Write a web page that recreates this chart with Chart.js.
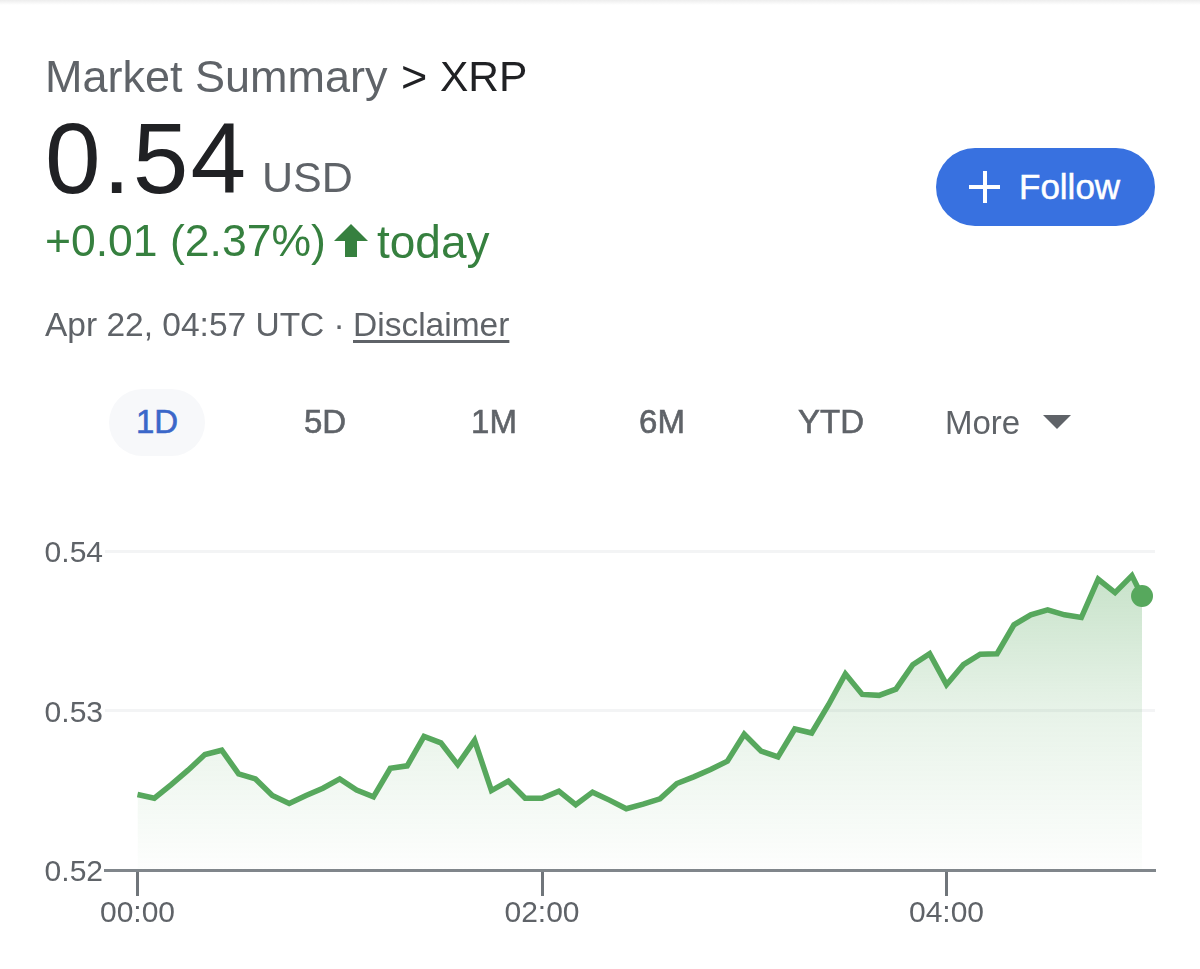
<!DOCTYPE html>
<html>
<head>
<meta charset="utf-8">
<script src="https://cdn.jsdelivr.net/npm/chart.js@4"></script>
<style>
  html, body { margin: 0; padding: 0; background: #fff; }
  body { width: 1200px; height: 969px; position: relative; overflow: hidden; font-family: "Liberation Sans", Arial, sans-serif; }
  .t { position: absolute; line-height: 1; white-space: nowrap; }
  .tab { position: absolute; top: 405px; font-size: 33px; line-height: 1; color: #5f6368; transform: translateX(-50%); -webkit-text-stroke: 0.6px currentColor; }
  #topbar { position: absolute; left: 0; top: 0; width: 1200px; height: 5px; background: linear-gradient(#ededed, #fff); }
  #pill { position: absolute; left: 109px; top: 389px; width: 96px; height: 67px; border-radius: 34px; background: #f7f8fa; }
  #follow { position: absolute; left: 936px; top: 148px; width: 219px; height: 78px; border-radius: 39px; background: #3871e0; }
  #plusH { position: absolute; left: 969px; top: 185px; width: 31px; height: 4px; background: #fff; }
  #plusV { position: absolute; left: 983px; top: 171px; width: 4px; height: 32px; background: #fff; }
  #caret { position: absolute; left: 1043px; top: 415px; width: 0; height: 0; border-left: 14px solid transparent; border-right: 14px solid transparent; border-top: 14px solid #5f6368; }
  #chart { position: absolute; left: 0; top: 0; }
</style>
</head>
<body>
<div id="topbar"></div>
<canvas id="chart" width="1200" height="969" style="width:1200px;height:969px"></canvas>

<div class="t" style="left:45px;top:54px;font-size:45px;color:#5f6368">Market Summary</div>
<div class="t" style="left:401px;top:54px;font-size:45px;color:#202124">&gt;</div>
<div class="t" style="left:440px;top:56px;font-size:42.5px;color:#202124">XRP</div>
<div class="t" style="left:45px;top:108px;font-size:100px;letter-spacing:2.2px;color:#202124">0.54</div>
<div class="t" style="left:262px;top:156px;font-size:43px;color:#5f6368">USD</div>
<div class="t" style="left:45px;top:219px;font-size:44.5px;color:#36803f">+0.01 (2.37%)</div>
<svg style="position:absolute;left:333px;top:224px" width="36" height="34" viewBox="0 0 36 34"><path d="M18 0 L35 17 L24 17 L24 33 L12 33 L12 17 L1 17 Z" fill="#36803f"/></svg>
<div class="t" style="left:377px;top:219px;font-size:46px;color:#36803f">today</div>
<div class="t" style="left:45px;top:308px;font-size:33.5px;color:#5f6368">Apr 22, 04:57 UTC ·</div>
<div class="t" style="left:353px;top:308px;font-size:33.5px;color:#5f6368;text-decoration:underline;text-underline-offset:4px">Disclaimer</div>

<div id="follow"></div>
<div id="plusH"></div>
<div id="plusV"></div>
<div class="t" style="left:1019px;top:169px;font-size:35px;color:#fff;-webkit-text-stroke:0.5px #fff">Follow</div>

<div id="pill"></div>
<div class="tab" style="left:157px;color:#3b67c9">1D</div>
<div class="tab" style="left:325px">5D</div>
<div class="tab" style="left:494px">1M</div>
<div class="tab" style="left:662px">6M</div>
<div class="tab" style="left:831px">YTD</div>
<div class="t" style="left:945px;top:406px;font-size:33px;color:#5f6368">More</div>
<div id="caret"></div>

<script>
// minutes after midnight UTC, one reading every 5 min plus the latest one
const minutes = [0, 5, 10, 15, 20, 25, 30, 35, 40, 45, 50, 55, 60, 65, 70, 75, 80, 85, 90, 95,
  100, 105, 110, 115, 120, 125, 130, 135, 140, 145, 150, 155, 160, 165, 170, 175, 180, 185, 190, 195,
  200, 205, 210, 215, 220, 225, 230, 235, 240, 245, 250, 255, 260, 265, 270, 275, 280, 285, 290, 295, 298];
const prices = [0.52473, 0.52450, 0.52535, 0.52626, 0.52724, 0.52751, 0.52603, 0.52571, 0.52467, 0.52417,
  0.52467, 0.52513, 0.52571, 0.52501, 0.52459, 0.52638, 0.52653, 0.52838, 0.52797, 0.52661,
  0.52813, 0.52498, 0.52557, 0.52450, 0.52450, 0.52494, 0.52409, 0.52488, 0.52438, 0.52384,
  0.52413, 0.52446, 0.52542, 0.52584, 0.52630, 0.52682, 0.52851, 0.52745, 0.52709, 0.52884,
  0.52859, 0.53036, 0.53230, 0.53101, 0.53095, 0.53134, 0.53287, 0.53356, 0.53162, 0.53287,
  0.53353, 0.53356, 0.53537, 0.53600, 0.53631, 0.53600, 0.53583, 0.53823, 0.53739, 0.53846, 0.53718];
const xTickValues = [0, 120, 240];
const xTickLabels = ['00:00', '02:00', '04:00'];
const yTickValues = [0.52, 0.53, 0.54];
const yTickLabels = ['0.52', '0.53', '0.54'];

const GREEN = '#57a85d';
const GRAY = '#5f6368';

function areaFill(context) {
  const area = context.chart.chartArea;
  if (!area) return 'rgba(87,168,93,0.1)';
  const g = context.chart.ctx.createLinearGradient(0, area.top, 0, area.bottom);
  g.addColorStop(0, 'rgba(87,168,93,0.36)');
  g.addColorStop(0.5, 'rgba(87,168,93,0.14)');
  g.addColorStop(1, 'rgba(87,168,93,0.01)');
  return g;
}

new Chart(document.getElementById('chart'), {
  type: 'line',
  data: {
    datasets: [{
      data: minutes.map((m, i) => ({ x: m, y: prices[i] })),
      borderColor: GREEN,
      borderWidth: 5.5,
      borderJoinStyle: 'miter',
      backgroundColor: areaFill,
      fill: 'start',
      tension: 0,
      pointRadius: ctx => ctx.dataIndex === prices.length - 1 ? 11 : 0,
      pointBackgroundColor: GREEN,
      pointBorderWidth: 0,
      clip: false
    }]
  },
  options: {
    responsive: false,
    animation: false,
    events: [],
    layout: { padding: { top: 551, right: 45, left: 0, bottom: 0 } },
    plugins: { legend: { display: false }, tooltip: { enabled: false } },
    scales: {
      x: {
        type: 'linear',
        min: -9.64,
        max: 301.85,
        afterBuildTicks: scale => { scale.ticks = xTickValues.map(v => ({ value: v })); },
        afterFit: scale => { scale.height = 99; },
        border: { color: '#80868b', width: 3 },
        grid: { drawOnChartArea: false, drawTicks: true, tickLength: 26, tickColor: '#70757a', tickWidth: 3 },
        ticks: {
          autoSkip: false,
          maxRotation: 0,
          padding: 0,
          color: GRAY,
          font: { family: '"Liberation Sans"', size: 30 },
          callback: value => xTickLabels[xTickValues.indexOf(value)]
        }
      },
      y: {
        min: 0.52,
        max: 0.54,
        afterBuildTicks: scale => { scale.ticks = yTickValues.map(v => ({ value: v })); },
        afterFit: scale => { scale.width = 105; },
        border: { display: false },
        grid: { color: ctx => ctx.tick.value === 0.52 ? 'rgba(0,0,0,0)' : '#f3f4f5', lineWidth: 3, drawTicks: false },
        ticks: {
          padding: 2,
          labelOffset: 3,
          color: GRAY,
          font: { family: '"Liberation Sans"', size: 30 },
          callback: value => yTickLabels[yTickValues.indexOf(value)]
        }
      }
    }
  }
});
</script>
</body>
</html>
